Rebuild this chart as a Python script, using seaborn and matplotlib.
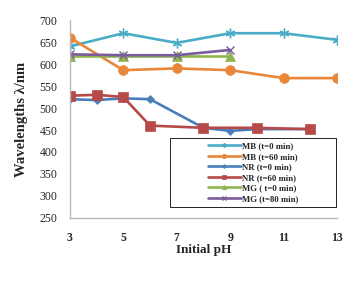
import pandas as pd
import matplotlib
matplotlib.use('Agg')
import matplotlib.pyplot as plt
from matplotlib.patches import Rectangle
import seaborn as sns

# series
mb0_ph = [3, 5, 7, 9, 11, 13]
mb0_wl = [640, 670, 648, 670, 670, 655]
mb60_ph = [3, 5, 7, 9, 11, 13]
mb60_wl = [660, 586, 590, 586, 568, 568]
nr0_ph = [3, 4, 5, 6, 8, 9, 10, 12]
nr0_wl = [520, 518, 522, 520, 455, 448, 452, 452]
nr60_ph = [3, 4, 5, 6, 8, 10, 12]
nr60_wl = [528, 530, 525, 460, 455, 455, 452]
mg0_ph = [3, 5, 7, 9]
mg0_wl = [618, 618, 618, 618]
mg80_ph = [3, 5, 7, 9]
mg80_wl = [622, 620, 620, 632]

labels = ['MB (t=0 min)', 'MB (t=60 min)', 'NR (t=0 min)',
          'NR (t=60 min)', 'MG ( t=0 min)', 'MG (t=80 min)']
x_ticks = [3, 5, 7, 9, 11, 13]
y_ticks = [250, 300, 350, 400, 450, 500, 550, 600, 650, 700]

sns.set_style('white')
plt.rcParams['font.family'] = ['Liberation Serif', 'DejaVu Serif']

fig = plt.figure(figsize=(3.6, 2.82), dpi=100)
ax = fig.add_axes([0.194, 0.227, 0.742, 0.702])

series = [
    (mb0_ph, mb0_wl, '#4bacc6', (6, 2, 0), 7, 1.0),
    (mb60_ph, mb60_wl, '#e8873a', 'o', 7, 0.5),
    (nr0_ph, nr0_wl, '#4a7ebb', 'D', 4.5, 0.5),
    (nr60_ph, nr60_wl, '#b54a48', 's', 7, 0.5),
    (mg0_ph, mg0_wl, '#8fb54e', '^', 7, 0.5),
    (mg80_ph, mg80_wl, '#7a5c9e', 'x', 6, 1.0),
]

for (px, wl, col, mk, ms, mew), lab in zip(series, labels):
    df = pd.DataFrame({'pH': px, 'wl': wl})
    sns.lineplot(data=df, x='pH', y='wl', ax=ax, color=col, lw=1.9,
                 marker=mk, markersize=ms, markeredgecolor=col,
                 markeredgewidth=mew, label=lab)

ax.set_xlim(3, 13)
ax.set_ylim(250, 700)
ax.set_xticks(x_ticks)
ax.set_yticks(y_ticks)
ax.tick_params(axis='x', length=0, pad=10, labelsize=8.5)
ax.tick_params(axis='y', length=0, pad=9, labelsize=8.5)
for t in ax.get_xticklabels():
    t.set_fontweight('bold')
for s in ['top', 'right']:
    ax.spines[s].set_visible(False)
for s in ['left', 'bottom']:
    ax.spines[s].set_color('#b8b8b8')
    ax.spines[s].set_linewidth(1.0)

ax.set_xlabel('Initial pH', fontsize=9.5, fontweight='bold', labelpad=0)
ax.set_ylabel('Wavelengths λ/nm', fontsize=10.5, fontweight='bold', labelpad=8)

# legend box drawn separately, legend entries centred inside it
box = Rectangle((170 / 360, 1 - 207 / 282), 166 / 360, 69 / 282,
                transform=fig.transFigure, facecolor='white',
                edgecolor='black', lw=0.6, clip_on=False, zorder=4)
ax.add_patch(box)
leg = ax.legend(loc='center', bbox_to_anchor=(253 / 360, 1 - 172.5 / 282),
                bbox_transform=fig.transFigure, frameon=False,
                prop={'size': 6.3, 'weight': 'bold'}, handlelength=3.8,
                handletextpad=0.1, labelspacing=0.28, borderpad=0,
                markerscale=0.45, borderaxespad=0)
leg.set_zorder(5)

fig.savefig('out.png', dpi=100)
